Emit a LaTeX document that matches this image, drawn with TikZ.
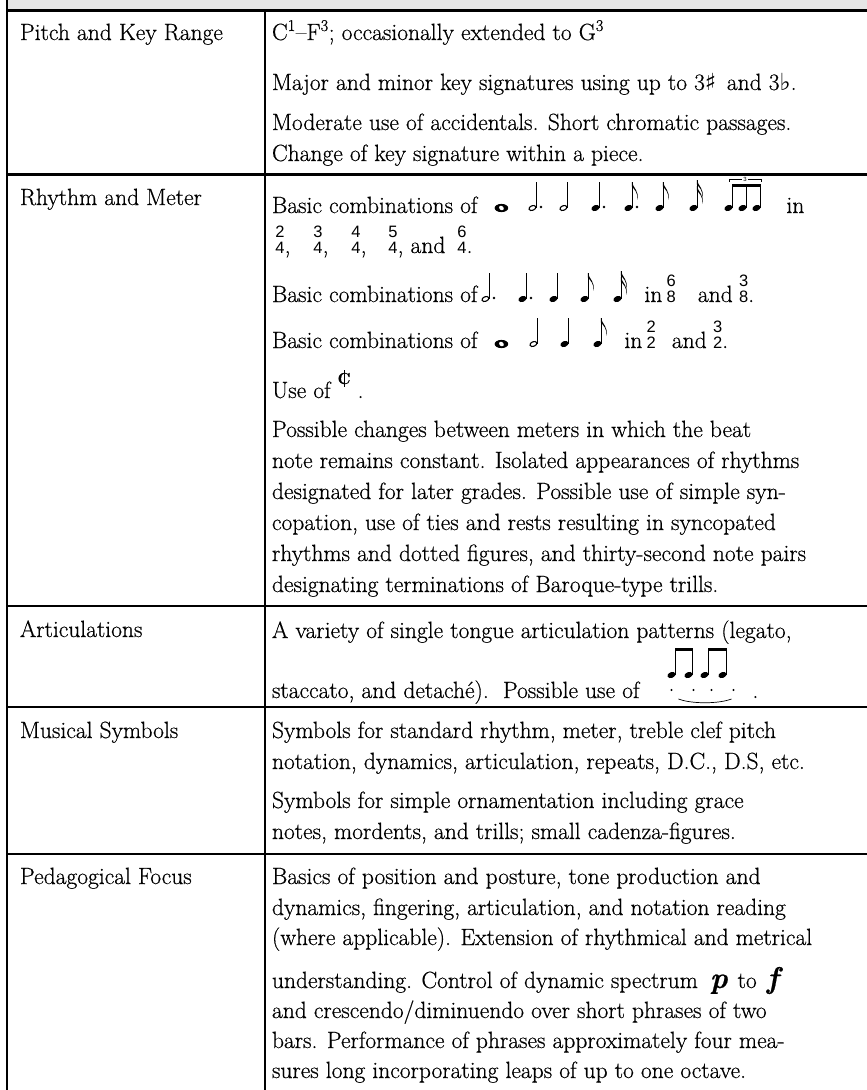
\documentclass[tikz,border=0pt]{standalone}
\usepackage{fontspec}
\setmainfont{Latin Modern Roman}[FakeBold=0.5]
\setsansfont{Liberation Sans}
\newfontfamily\symfont{DejaVu Sans}
\usetikzlibrary{calc}
\definecolor{hdrgray}{RGB}{230,230,230}
\newcommand\FHead{\fill[rotate=22] (0,0) ellipse (4.2 and 2.9);}
\newcommand\HHead{\draw[line width=1.1,rotate=22] (0,0) ellipse (3.6 and 2.3);}
\newcommand\Stem[1][26]{\draw[line width=0.8] (3.8,-0.5) -- (3.8,-#1);}
\newcommand\Flag[1][0]{\fill (3.4,-26+#1) .. controls (4.8,-20+#1) and (11,-17+#1) .. (8.8,-8.5+#1) .. controls (9.8,-14.5+#1) and (6.3,-18.5+#1) .. (3.4,-21.5+#1) -- cycle;}
\newcommand\NDot{\fill (8.6,-1) circle (1.3);}
\newcommand\Frac[2]{\begin{tabular}[b]{@{}c@{}}#1\\#2\end{tabular}}
\tikzset{
  rule/.style={line width=2.6pt, line cap=rect},
  txt/.style={anchor=base west, inner sep=0pt, outer sep=0pt, font=\fontsize{23.5}{28}\selectfont},
  frac/.style={anchor=base, inner sep=0pt, outer sep=0pt, font=\sffamily\fontsize{16.5}{14}\selectfont},
  dyn/.style={anchor=base west, inner sep=0pt, outer sep=0pt, font=\bfseries\itshape\fontsize{30}{30}\selectfont},
  whole/.pic={\fill (0,0) ellipse (6.8 and 4.1); \fill[white,rotate=-40] (0,0) ellipse (2.6 and 2.0);},
  half/.pic={\HHead\Stem},
  dhalf/.pic={\HHead\Stem\NDot},
  quarter/.pic={\FHead\Stem},
  dquarter/.pic={\FHead\Stem\NDot},
  eighth/.pic={\FHead\Stem\Flag},
  deighth/.pic={\FHead\Stem\Flag\NDot},
  sixteenth/.pic={\FHead\Stem[28]\Flag[-2]\Flag[4]},
  triplet/.pic={
    \foreach \i in {0,14,28}{\begin{scope}[xshift=\i]\FHead\draw[line width=0.8] (3.8,-0.5) -- (3.8,-24.5);\end{scope}}
    \fill (3.4,-24.5) rectangle (32.2,-21);
    \draw[line width=0.5] (0.5,-26.5) -- (0.5,-29) -- (13.5,-29);
    \draw[line width=0.5] (19.5,-29) -- (33,-29) -- (33,-26.5);
    \node[inner sep=0pt, font=\sffamily\fontsize{6}{6}\selectfont] (tri3) at (16.5,-29) {3};
  },
  artfig/.pic={
    \foreach \i in {0,17,33,51}{\begin{scope}[xshift=\i]\FHead\draw[line width=0.8] (3.8,-0.5) -- (3.8,-27);\end{scope}}
    \fill (3.4,-27) rectangle (21.2,-23.8);
    \fill (36.4,-27) rectangle (55.2,-23.8);
    \foreach \j in {0,22,40,62}{\fill (\j,15) circle (1.1);}
    \draw[line width=0.7] (7,24) .. controls (20,29) and (47,29) .. (60,24);
  }
}
\begin{document}
\begin{tikzpicture}[x=1pt,y=-1pt]
\useasboundingbox (0,0) rectangle (867,1090);
% header strip and rules
\fill[hdrgray] (7,0) rectangle (867,10.5);
\draw[rule] (7,0) -- (7,1090);
\draw[rule] (265,10.5) -- (265,1090);
\foreach \yy in {10.5,174.5,606,707,854}{\draw[rule] (7,\yy) -- (867,\yy);}

% left column
\node[txt] (l1) at (20,40) {Pitch and Key Range};
\node[txt] (l2) at (20,205) {Rhythm and Meter};
\node[txt] (l3) at (20,637) {Articulations};
\node[txt] (l4) at (20,738) {Musical Symbols};
\node[txt] (l5) at (20,884) {Pedagogical Focus};

% row 1
\node[txt] (a1) at (272,40) {C\textsuperscript{1}–F\textsuperscript{3}; occasionally extended to G\textsuperscript{3}};
\node[txt] (a2) at (272,90) {Major and minor key signatures using up to 3{\symfont ♯}\hspace{0.45em}and 3{\symfont ♭}.};
\node[txt] (a3) at (272,130) {Moderate use of accidentals. Short chromatic passages.};
\node[txt] (a4) at (272,161) {Change of key signature within a piece.};

% row 2 line 1
\node[txt] (b1) at (272,213) {Basic combinations of};
\pic at ($(b1.base east)+(24,-5)$) {whole};
\pic at ($(b1.base east)+(55,-5)$) {dhalf};
\pic at ($(b1.base east)+(86,-5)$) {half};
\pic at ($(b1.base east)+(118,-5)$) {dquarter};
\pic at ($(b1.base east)+(151,-5)$) {deighth};
\pic at ($(b1.base east)+(182,-5)$) {eighth};
\pic at ($(b1.base east)+(216,-5)$) {sixteenth};
\pic at ($(b1.base east)+(251,-5)$) {triplet};
\node[txt] (b1in) at ($(b1.base east)+(309,0)$) {in};
% meters line
\node[frac] (m1) at (280,253) {\Frac{2}{4}};
\node[txt] (m1c) at (m1.base east) {,};
\node[frac] (m2) at (318,253) {\Frac{3}{4}};
\node[txt] (m2c) at (m2.base east) {,};
\node[frac] (m3) at (356,253) {\Frac{4}{4}};
\node[txt] (m3c) at (m3.base east) {,};
\node[frac] (m4) at (393,253) {\Frac{5}{4}};
\node[txt] (m4c) at (m4.base east) {, and};
\node[frac] (m5) at (462,253) {\Frac{6}{4}};
\node[txt] (m5c) at (m5.base east) {.};
% line 3
\node[txt] (c1) at (272,302) {Basic combinations of};
\pic at ($(c1.base east)+(8,-3)$) {dhalf};
\pic at ($(c1.base east)+(45,-3)$) {dquarter};
\pic at ($(c1.base east)+(76,-3)$) {quarter};
\pic at ($(c1.base east)+(107,-3)$) {eighth};
\pic at ($(c1.base east)+(140,-3)$) {sixteenth};
\node[txt] (c1in) at ($(c1.base east)+(167,0)$) {in};
\node[frac] (c6) at ($(c1in.base east)+(9,0)$) {\Frac{6}{8}};
\node[txt] (c1and) at ($(c6.base east)+(22,0)$) {and};
\node[frac] (c3) at ($(c1and.base east)+(11,0)$) {\Frac{3}{8}};
\node[txt] (c1p) at (c3.base east) {.};
% line 4
\node[txt] (d1) at (272,348) {Basic combinations of};
\pic at ($(d1.base east)+(24,-4)$) {whole};
\pic at ($(d1.base east)+(56,-4)$) {half};
\pic at ($(d1.base east)+(87,-4)$) {quarter};
\pic at ($(d1.base east)+(120,-4)$) {eighth};
\node[txt] (d1in) at ($(d1.base east)+(147,0)$) {in};
\node[frac] (d2) at ($(d1in.base east)+(9,0)$) {\Frac{2}{2}};
\node[txt] (d1and) at ($(d2.base east)+(16,0)$) {and};
\node[frac] (d3) at ($(d1and.base east)+(11,0)$) {\Frac{3}{2}};
\node[txt] (d1p) at (d3.base east) {.};
% line 5
\node[txt] (u1) at (272,398) {Use of};
\node[anchor=base west, inner sep=0pt, outer sep=0pt, font=\bfseries\fontsize{16}{16}\selectfont] (cut) at ($(u1.base east)+(7,-14)$) {C};
\draw[line width=1] ($(cut.north)+(0,-2.5)$) -- ($(cut.south)+(0,2.5)$);
\node[txt] (u2) at ($(u1.base east)+(27,0)$) {.};
% paragraph
\node[txt] (p1) at (272,437) {Possible changes between meters in which the beat};
\node[txt] (p2) at (272,468) {note remains constant. Isolated appearances of rhythms};
\node[txt] (p3) at (272,499) {designated for later grades. Possible use of simple syn-};
\node[txt] (p4) at (272,530) {copation, use of ties and rests resulting in syncopated};
\node[txt] (p5) at (272,561) {rhythms and dotted figures, and thirty-second note pairs};
\node[txt] (p6) at (272,592) {designating terminations of Baroque-type trills.};

% row 3
\node[txt] (e1) at (272,638) {A variety of single tongue articulation patterns (legato,};
\node[txt] (e2) at (272,698) {staccato, and detaché).\ \ Possible use of};
\pic at ($(e2.base east)+(32,-23)$) {artfig};
\node[txt] (e3) at ($(e2.base east)+(113,0)$) {.};

% row 4
\node[txt] (f1) at (272,738) {Symbols for standard rhythm, meter, treble clef pitch};
\node[txt] (f2) at (272,769) {notation, dynamics, articulation, repeats, D.C., D.S, etc.};
\node[txt] (f3) at (272,808) {Symbols for simple ornamentation including grace};
\node[txt] (f4) at (272,839) {notes, mordents, and trills; small cadenza-figures.};

% row 5
\node[txt] (g1) at (272,884) {Basics of position and posture, tone production and};
\node[txt] (g2) at (272,915) {dynamics, fingering, articulation, and notation reading};
\node[txt] (g3) at (272,945) {(where applicable). Extension of rhythmical and metrical};
\node[txt] (g4) at (272,988) {understanding. Control of dynamic spectrum};
\node[dyn] (gp) at ($(g4.base east)+(12,0)$) {p};
\node[txt] (g4to) at ($(gp.base east)+(10,0)$) {to};
\node[dyn] (gf) at ($(g4to.base east)+(10,0)$) {f};
\node[txt] (g5) at (272,1018) {and crescendo/diminuendo over short phrases of two};
\node[txt] (g6) at (272,1048) {bars. Performance of phrases approximately four mea-};
\node[txt] (g7) at (272,1078) {sures long incorporating leaps of up to one octave.};
\end{tikzpicture}
\end{document}
